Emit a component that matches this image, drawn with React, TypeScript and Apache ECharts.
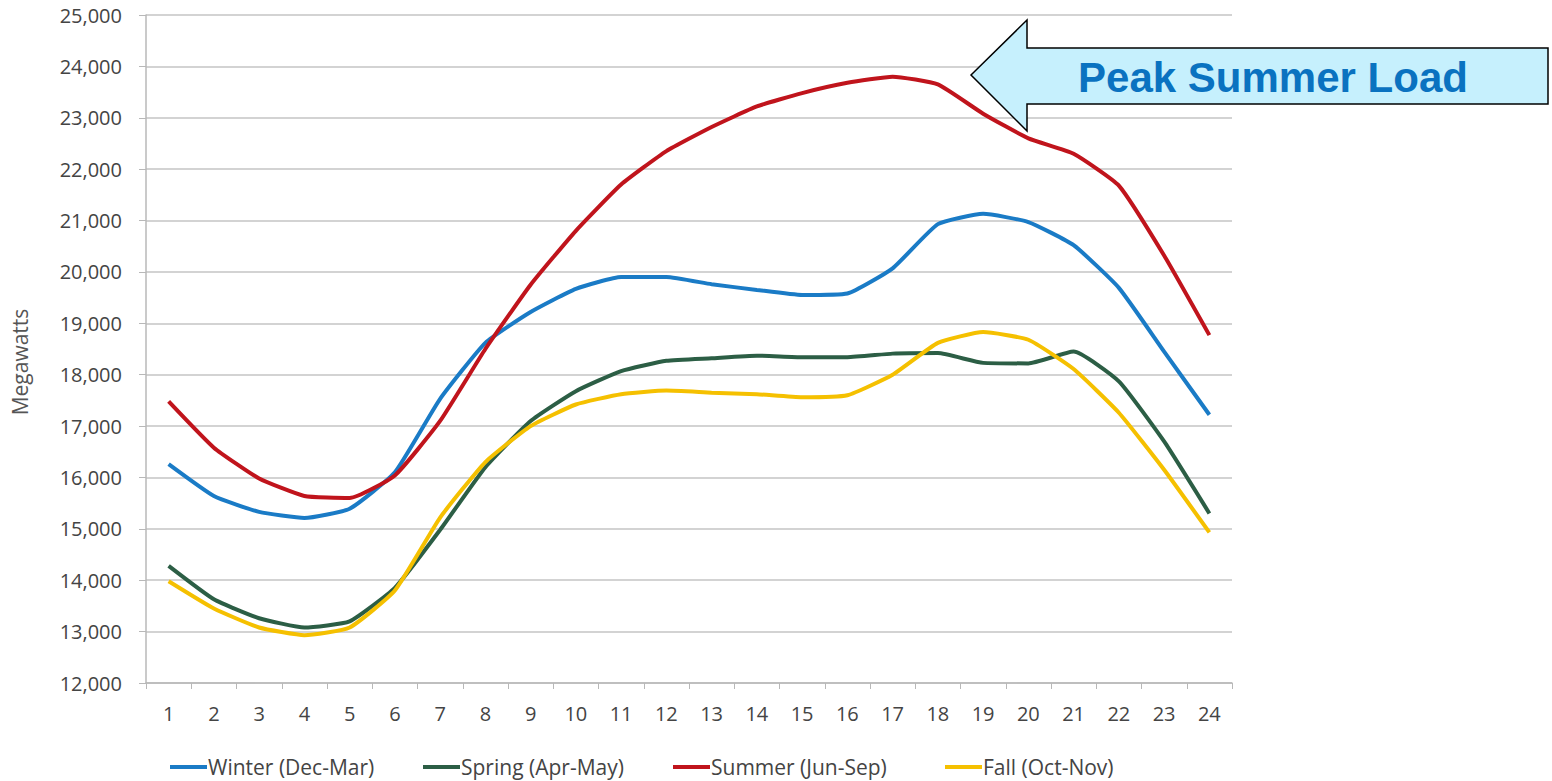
import React, { useEffect, useRef } from "react";
import * as echarts from "echarts";

const hours = ["1","2","3","4","5","6","7","8","9","10","11","12","13","14","15","16","17","18","19","20","21","22","23","24"];
const winter = [16260,15640,15330,15210,15390,16100,17530,18620,19220,19670,19900,19900,19760,19650,19550,19580,20070,20930,21130,20970,20520,19690,18450,17220];
const spring = [14280,13630,13260,13080,13200,13850,14980,16200,17100,17680,18070,18270,18320,18370,18340,18340,18410,18420,18230,18220,18450,17870,16700,15300];
const summer = [17480,16580,15980,15640,15600,16040,17100,18500,19750,20800,21700,22350,22820,23220,23480,23680,23800,23650,23080,22600,22300,21680,20320,18770];
const fall = [13980,13450,13080,12930,13080,13800,15220,16300,17000,17420,17620,17690,17650,17620,17560,17600,18000,18620,18830,18680,18110,17260,16150,14930];

const seriesNames = ["Winter (Dec-Mar)", "Spring (Apr-May)", "Summer (Jun-Sep)", "Fall (Oct-Nov)"];
const seriesColors = ["#1a7bc6", "#2c5e45", "#c0141c", "#f5c000"];
const seriesData = [winter, spring, summer, fall];
const legendLefts = [170, 423, 673, 945];

export default function App() {
  const ref = useRef<HTMLDivElement>(null);
  useEffect(() => {
    const chart = echarts.init(ref.current!, null, { renderer: "svg" });
    const font = "'Open Sans', sans-serif";
    chart.setOption({
      animation: false,
      backgroundColor: "#ffffff",
      grid: { left: 146, right: 320, top: 15, bottom: 98 },
      xAxis: {
        type: "category",
        data: hours,
        boundaryGap: true,
        axisLine: { lineStyle: { color: "#b8b8b8", width: 1.5 } },
        axisTick: { show: true, length: 6, lineStyle: { color: "#b8b8b8" } },
        axisLabel: { color: "#444", fontSize: 20, fontFamily: font, margin: 20 },
      },
      yAxis: {
        type: "value",
        min: 12000,
        max: 25000,
        interval: 1000,
        axisLine: { show: true, lineStyle: { color: "#b8b8b8", width: 1.5 } },
        axisTick: { show: true, length: 7, lineStyle: { color: "#b8b8b8" } },
        splitLine: { lineStyle: { color: "#c4c4c4", width: 1.5 } },
        axisLabel: {
          color: "#444",
          fontSize: 20,
          fontFamily: font,
          margin: 24,
          formatter: (v: number) => v.toLocaleString("en-US"),
        },
      },
      legend: seriesNames.map((n, i) => ({
        left: legendLefts[i],
        top: 756,
        padding: 0,
        itemWidth: 37,
        itemHeight: 4,
        icon: "rect",
        textStyle: { color: "#444", fontSize: 21, lineHeight: 22, fontFamily: font, padding: [0, 0, 0, -4] },
        data: [n],
      })),
      series: seriesNames.map((n, i) => ({
        name: n,
        type: "line",
        data: seriesData[i],
        smooth: 0.15,
        symbol: "none",
        lineStyle: { color: seriesColors[i], width: 4 },
        itemStyle: { color: seriesColors[i] },
      })),
      graphic: [
        {
          type: "text",
          x: 20,
          y: 362,
          rotation: Math.PI / 2,
          style: {
            text: "Megawatts",
            fill: "#555",
            font: "21px 'Open Sans', sans-serif",
            textAlign: "center",
            textVerticalAlign: "middle",
          },
        },
        {
          type: "polygon",
          shape: {
            points: [
              [971, 75],
              [1027, 20],
              [1027, 48],
              [1548, 48],
              [1548, 104],
              [1027, 104],
              [1027, 131],
            ],
          },
          style: { fill: "#c6f0fd", stroke: "#000", lineWidth: 1.5 },
          z: 100,
        },
        {
          type: "text",
          x: 1273,
          y: 77,
          style: {
            text: "Peak Summer Load",
            fill: "#0a72c0",
            font: "bold 42px 'Liberation Sans', Arial, sans-serif",
            textAlign: "center",
            textVerticalAlign: "middle",
          },
          z: 101,
        },
      ],
    });
    return () => chart.dispose();
  }, []);
  return <div ref={ref} style={{ position: "fixed", left: 0, top: 0, width: 1552, height: 781 }} />;
}
